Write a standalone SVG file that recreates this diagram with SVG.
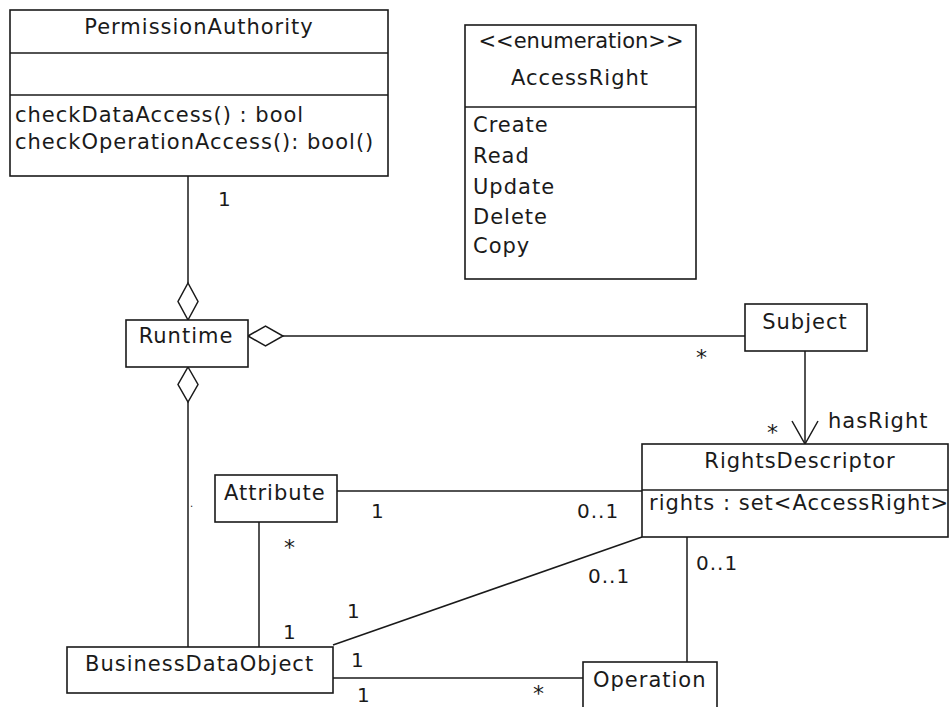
<svg xmlns="http://www.w3.org/2000/svg" width="950" height="707" viewBox="0 0 950 707">
<style>
  .box { fill: #ffffff; stroke: #1a1a1a; stroke-width: 1.6; }
  .sep { stroke: #1a1a1a; stroke-width: 1.6; fill: none; }
  .ln { stroke: #1a1a1a; stroke-width: 1.5; fill: none; }
  .dia { fill: #ffffff; stroke: #1a1a1a; stroke-width: 1.5; }
  text { font-family: "DejaVu Sans", "Noto Sans", sans-serif; font-size: 21px; letter-spacing: 1px; fill: #1a1a1a; }
  .c { text-anchor: middle; }
  .lbl { font-size: 20px; }
  .star { font-size: 22px; }
</style>
<rect width="950" height="707" fill="#ffffff"/>

<g id="connectors">
  <!-- PermissionAuthority - Runtime (aggregation) -->
  <line class="ln" x1="188" y1="176" x2="188" y2="283"/>
  <polygon class="dia" points="188,283 198,301.5 188,320 178,301.5"/>
  <!-- Runtime - Subject (aggregation) -->
  <line class="ln" x1="283" y1="336" x2="745" y2="336"/>
  <polygon class="dia" points="248,336 265.5,326 283,336 265.5,346"/>
  <!-- Runtime - BusinessDataObject (aggregation) -->
  <polygon class="dia" points="188,367 198,384.5 188,402 178,384.5"/>
  <line class="ln" x1="188" y1="402" x2="188" y2="647"/>
  <!-- Subject - RightsDescriptor (hasRight) -->
  <line class="ln" x1="805" y1="351" x2="805" y2="444"/>
  <polyline class="ln" points="792,421 805,444 818,421"/>
  <!-- Attribute - RightsDescriptor -->
  <line class="ln" x1="337" y1="491" x2="642" y2="491"/>
  <!-- Attribute - BusinessDataObject -->
  <line class="ln" x1="259" y1="522" x2="259" y2="647"/>
  <!-- BusinessDataObject - RightsDescriptor -->
  <line class="ln" x1="333" y1="645" x2="642" y2="537"/>
  <!-- BusinessDataObject - Operation -->
  <line class="ln" x1="333" y1="678" x2="583" y2="678"/>
  <!-- RightsDescriptor - Operation -->
  <line class="ln" x1="687" y1="537" x2="687" y2="662"/>

  <!-- multiplicities / labels -->
  <text x="218" y="206" class="lbl">1</text>
  <text x="696" y="365" class="star">*</text>
  <text x="767" y="440" class="star">*</text>
  <text x="828" y="428">hasRight</text>
  <text x="190" y="507" class="lbl" style="font-size:10px">.</text>
  <text x="371" y="518" class="lbl">1</text>
  <text x="577" y="518" class="lbl">0..1</text>
  <text x="284" y="555" class="star">*</text>
  <text x="283" y="639" class="lbl">1</text>
  <text x="347" y="618" class="lbl">1</text>
  <text x="588" y="583" class="lbl">0..1</text>
  <text x="696" y="570" class="lbl">0..1</text>
  <text x="351" y="667" class="lbl">1</text>
  <text x="357" y="702" class="lbl">1</text>
  <text x="533" y="701" class="star">*</text>
</g>

<g id="PermissionAuthority">
  <rect class="box" x="10" y="10" width="378" height="166"/>
  <line class="sep" x1="10" y1="53" x2="388" y2="53"/>
  <line class="sep" x1="10" y1="95" x2="388" y2="95"/>
  <text x="199" y="34" class="c">PermissionAuthority</text>
  <text x="15" y="122">checkDataAccess() : bool</text>
  <text x="15" y="149">checkOperationAccess(): bool()</text>
</g>

<g id="AccessRight">
  <rect class="box" x="465" y="25" width="231" height="254"/>
  <line class="sep" x1="465" y1="107" x2="696" y2="107"/>
  <text x="581" y="48" class="c" style="letter-spacing:0">&lt;&lt;enumeration&gt;&gt;</text>
  <text x="580" y="85" class="c">AccessRight</text>
  <text x="473" y="132">Create</text>
  <text x="473" y="163">Read</text>
  <text x="473" y="194">Update</text>
  <text x="473" y="224">Delete</text>
  <text x="473" y="253">Copy</text>
</g>

<g id="Runtime">
  <rect class="box" x="126" y="320" width="122" height="47"/>
  <text x="186" y="343" class="c">Runtime</text>
</g>

<g id="Subject">
  <rect class="box" x="745" y="304" width="122" height="47"/>
  <text x="805" y="329" class="c">Subject</text>
</g>

<g id="RightsDescriptor">
  <rect class="box" x="642" y="444" width="306" height="93"/>
  <line class="sep" x1="642" y1="490" x2="948" y2="490"/>
  <text x="800" y="468" class="c">RightsDescriptor</text>
  <text x="649" y="510">rights : set&lt;AccessRight&gt;</text>
</g>

<g id="Attribute">
  <rect class="box" x="215" y="475" width="122" height="47"/>
  <text x="224" y="500">Attribute</text>
</g>

<g id="BusinessDataObject">
  <rect class="box" x="67" y="647" width="266" height="46"/>
  <text x="85" y="671">BusinessDataObject</text>
</g>

<g id="Operation">
  <rect class="box" x="583" y="662" width="134" height="60"/>
  <text x="593" y="687">Operation</text>
</g>
</svg>
